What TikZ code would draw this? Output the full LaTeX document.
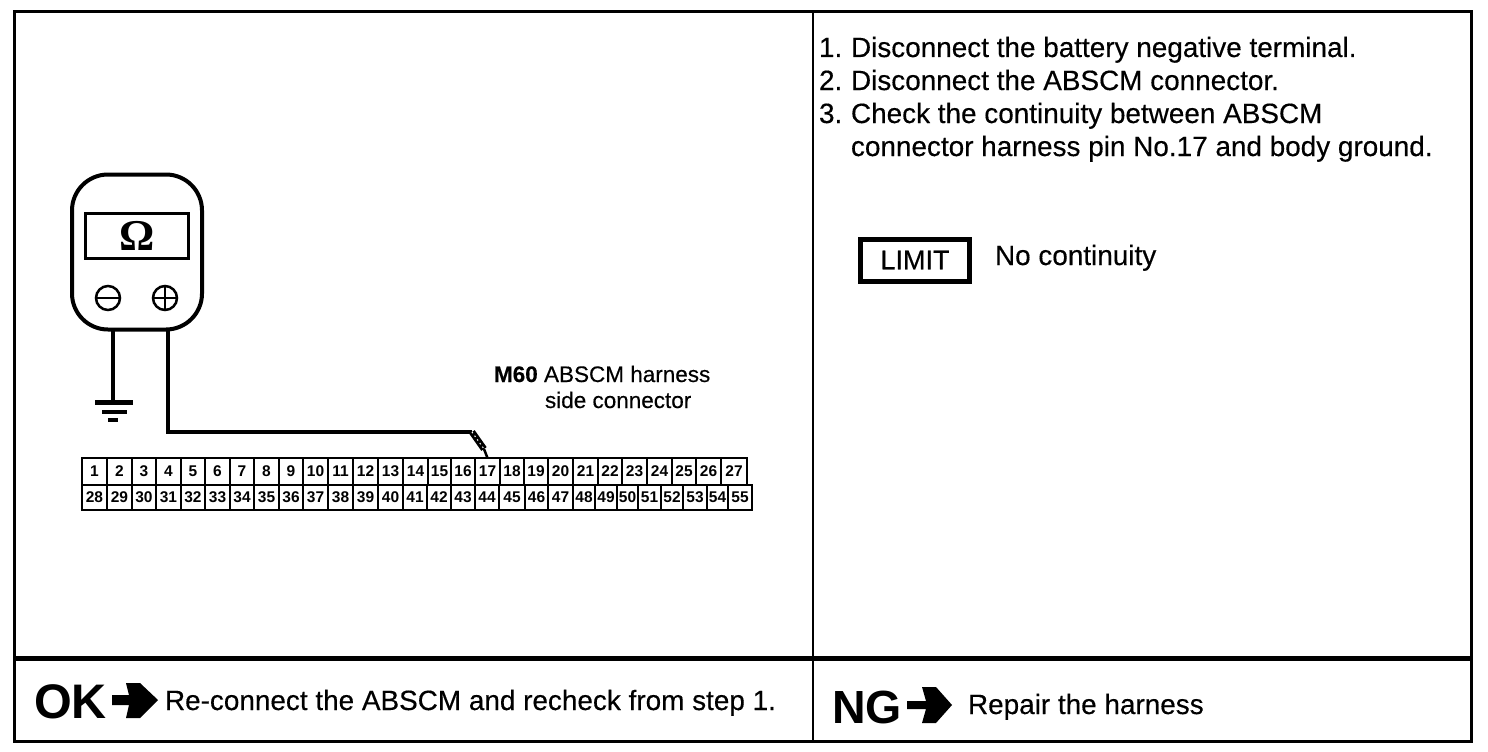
\documentclass[tikz,border=0pt]{standalone}
\usepackage{fontspec}
\setmainfont{Liberation Sans}
\newfontfamily\heavy[FakeBold=0.35]{Liberation Sans}
\newfontfamily\omegafont{Liberation Serif}
\newcommand{\fsz}[1]{\fontsize{#1}{#1}\selectfont}
\tikzset{
  frameline/.style={line width=3pt,line cap=rect},
  divider/.style={line width=5pt},
  wire/.style={line width=3.5pt},
  txt/.style={inner sep=0pt,outer sep=0pt,anchor=base west,font=\heavy\fsz{27.9}},
  label/.style={inner sep=0pt,outer sep=0pt,anchor=base west,font=\heavy\fsz{22.5}},
  bigword/.style={inner sep=0pt,outer sep=0pt,anchor=base west,font=\bfseries\fsz{48.5}},
  pinbox/.style={draw,line width=2pt,inner sep=0pt,outer sep=0pt,font=\bfseries\fsz{15.5}},
  terminal/.style={circle,draw,line width=2.5pt,minimum size=24pt,inner sep=0pt}
}
\newcommand{\pin}[6]{%
  \pgfmathsetmacro{\pw}{#3-#2}\pgfmathsetmacro{\ph}{#5-#4}%
  \node[pinbox,minimum width=\pw pt,minimum height=\ph pt] (#1) at ({(#2+#3)/2},{(#4+#5)/2}) {#6};}
\begin{document}
\begin{tikzpicture}[x=1pt,y=-1pt]
\useasboundingbox[fill=white] (0,0) rectangle (1488,752);
% frame
\draw[frameline] (14,12) rectangle (1471,741);
\draw[line width=2.5pt] (813,12) -- (813,741);
\draw[divider] (14,658) -- (1471,658);
% meter
\node[draw,line width=4pt,rounded corners=36pt,minimum width=130pt,minimum height=155pt,inner sep=0pt] (meter) at (137,252) {};
\node[draw,line width=3pt,minimum width=103pt,minimum height=45pt,inner sep=0pt,font=\omegafont\bfseries\fsz{44}] (display) at (137,236) {Ω};
\node[terminal] (minus) at (108,298) {};
\node[terminal] (plus) at (165,298) {};
\draw[line width=2.5pt] (minus.west) -- (minus.east);
\draw[line width=2.5pt] (plus.west) -- (plus.east) (plus.north) -- (plus.south);
% ground
\coordinate (gnd) at (113,402);
\coordinate (wa) at (113,329);
\coordinate (wb) at (168,329);
\coordinate (bend) at (168,432);
\coordinate (probetop) at (472,432);
\coordinate (probemid) at (484,449);
\draw[wire] (wa) -- (gnd);
\draw[line width=5pt] (95,402) -- (133,402);
\draw[line width=4pt] (102,412) -- (127,412);
\draw[line width=3.5pt] (108,420) -- (118,420);
% connector
\foreach \n/\a/\b in {1/82/107,2/107/132,3/132/156,4/156/181,5/181/205,6/205/230,7/230/254,8/254/279,9/279/303,10/303/328,11/328/353,12/353/378,13/378/403,14/403/428,15/428/451,16/451/475,17/475/500,18/500/524,19/524/548,20/548/573,21/573/598,22/598/622,23/622/647,24/647/672,25/672/696,26/696/721,27/721/747}{
  \pin{p\n}{\a}{\b}{458}{485}{\n}
}
\foreach \n/\a/\b in {28/82/107,29/107/132,30/132/156,31/156/181,32/181/205,33/205/230,34/230/254,35/254/279,36/279/303,37/303/328,38/328/353,39/353/378,40/378/403,41/403/427,42/427/451,43/451/475,44/475/499,45/499/525,46/525/548,47/548/573,48/573/595,49/595/617,50/617/638,51/638/661,52/661/683,53/683/707,54/707/728,55/728/752}{
  \pin{p\n}{\a}{\b}{485}{510}{\n}
}
% probe wire
\draw[wire,line join=miter] (wb) -- (bend) -- (probetop);
\draw[line width=6.5pt] (probetop) -- (probemid);
\draw[line width=1pt,white,dash pattern=on 1.5pt off 3pt] (probetop) -- (probemid);
\draw[line width=2.5pt] (probemid) -- (p17.north);
% label
\node[label] (lab1) at (494,382) {{\bfseries M60} ABSCM harness};
\node[label] (lab2) at (545,408) {side connector};
% right panel text
\node[txt] (s1n) at (819,57) {1.};
\node[txt] (s1) at (851,57) {Disconnect the battery negative terminal.};
\node[txt] (s2n) at (819,90) {2.};
\node[txt] (s2) at (851,90) {Disconnect the ABSCM connector.};
\node[txt] (s3n) at (819,123) {3.};
\node[txt] (s3) at (851,123) {Check the continuity between ABSCM};
\node[txt] (s4) at (851,156) {connector harness pin No.17 and body ground.};
\node[draw,line width=5pt,minimum width=109pt,minimum height=42pt,inner sep=0pt,font=\heavy\fsz{27}] (limit) at (915,260) {LIMIT};
\node[txt] (nocont) at (995,265) {No continuity};
% bottom
\node[bigword] (ok) at (34,718) {OK};
\fill (112,695) -- (129,695) -- (126,683) -- (140,683) -- (158,700) -- (140,718) -- (126,718) -- (129,705) -- (112,705) -- cycle;
\node[txt] (oktext) at (165,710) {Re-connect the ABSCM and recheck from step 1.};
\node[bigword,font=\bfseries\fsz{46.5}] (ng) at (832,723) {NG};
\fill (907,701) -- (926,701) -- (922,687) -- (936,687) -- (952,705) -- (936,723) -- (922,723) -- (926,709) -- (907,709) -- cycle;
\node[txt] (ngtext) at (968,714) {Repair the harness};
\end{tikzpicture}
\end{document}
